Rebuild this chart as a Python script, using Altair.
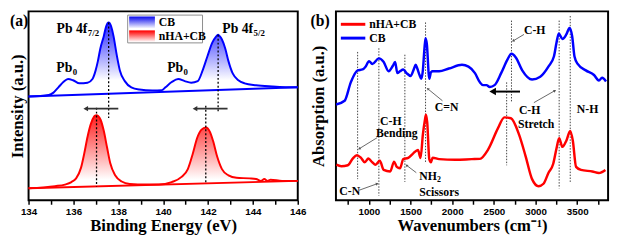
import math
import altair as alt
import pandas as pd

# ---------------- Panel (a): XPS Pb 4f ----------------
cb_e = [134.0, 134.9, 135.11, 135.33, 135.55, 135.76, 135.98, 136.27, 136.63, 136.85, 136.99,
        137.09, 137.2, 137.35, 137.46, 137.57, 137.68, 137.79, 137.93, 138.07, 138.29, 138.58,
        138.94, 139.52, 139.95, 140.1, 140.38, 140.67, 140.96, 141.25, 141.54, 141.76, 141.97,
        142.19, 142.35, 142.45, 142.53, 142.62, 142.77, 142.91, 143.1, 143.35, 143.63, 144.14,
        144.86, 145.87, 146.0]
cb_i = [112, 113.7, 116.3, 122, 127.7, 131, 129.7, 126.3, 127, 131, 140.3,
        150.3, 164, 177, 188, 192, 188, 177, 157, 140.3, 128.7, 122,
        119.7, 118.7, 119, 122, 127.7, 131, 128.7, 127, 128.7, 140.3, 155.3,
        170.3, 176.5, 178.7, 177, 173.7, 163.7, 150.3, 137, 129.7, 126.3, 124.3,
        123, 122, 122]
nha_e = [134.0, 135.18, 135.62, 135.91, 136.12, 136.34, 136.48, 136.63, 136.77, 136.92, 136.97,
         137.03, 137.1, 137.21, 137.35, 137.5, 137.64, 137.86, 138.15, 138.51, 139.23, 139.81,
         140.38, 140.82, 141.1, 141.32, 141.51, 141.71, 141.9, 142.09, 142.23, 142.41, 142.62,
         142.91, 143.27, 143.85, 144.14, 144.36, 144.51, 144.65, 144.79, 145.3, 146.0]
nha_i = [13, 15.3, 17, 19.7, 23.7, 35.3, 50.3, 68.7, 82, 90.3, 91.5,
         92, 91, 87, 75.3, 57, 40.3, 27, 20.3, 17.7, 17, 17,
         19.7, 25.3, 33.7, 50.3, 67, 76.3, 78.7, 73.7, 63.7, 47, 33.7,
         27, 24.3, 23.7, 23, 21, 23, 21, 22.3, 21, 21]
base_e = [134.0, 146.0]
base_cb_i = [112, 122]
base_nha_i = [13, 21]

guide_a_e = [137.57, 142.45, 137.03, 141.9]
guide_a_top = [192, 178.7, 100, 102]
guide_a_bot = [89, 95, 15, 19]

arrow_a_tail = [138.0, 142.87]
arrow_a_head = [136.55, 141.42]
arrow_a_i = [99, 99]

lab_a_text = ["Pb 4f", "Pb 4f", "Pb", "Pb"]
lab_a_e = [136.62, 144.01, 135.95, 140.89]
lab_a_i = [185, 185, 143, 143]
sub_a_text = ["7/2", "5/2", "0", "0"]
sub_a_e = [136.64, 144.03, 135.97, 140.91]
sub_a_i = [180.5, 180.5, 138.5, 138.5]

# ---------------- Panel (b): IR ----------------
cb_w = [607, 709, 783, 865, 924, 960, 1002, 1041, 1120, 1178, 1237, 1288, 1315, 1342, 1373,
        1413, 1452, 1503, 1538, 1561, 1581, 1608, 1628, 1648, 1667, 1680, 1695, 1725, 1745,
        1765, 1843, 1960, 2117, 2195, 2273, 2332, 2371, 2411, 2450, 2508, 2587, 2664, 2711,
        2763, 2840, 2958, 3056, 3154, 3220, 3251, 3279, 3322, 3369, 3408, 3439, 3467, 3505,
        3603, 3701, 3760, 3798, 3845]
cb_a = [104, 108, 128, 141, 142, 145, 151, 148, 154, 150, 140, 146, 150, 138, 140,
        142, 138, 135, 142, 147, 143, 136, 132, 141, 165, 176, 170, 132, 139,
        140, 140, 143, 147, 145, 138, 128, 125, 125, 123, 125, 138, 153, 159,
        155, 141, 131, 134, 145, 156, 171, 181, 175, 180, 187, 178, 156, 148,
        141, 136, 130, 133, 129]
nha_w = [610, 669, 748, 806, 857, 904, 951, 994, 1041, 1080, 1131, 1178, 1256, 1303, 1335,
         1373, 1413, 1472, 1530, 1589, 1620, 1648, 1671, 1685, 1700, 1725, 1745, 1765, 1843,
         2038, 2234, 2332, 2430, 2548, 2626, 2704, 2802, 2880, 2958, 3036, 3095, 3154, 3212,
         3251, 3283, 3322, 3369, 3416, 3447, 3486, 3545, 3681, 3760, 3838]
nha_a = [38.7, 37, 38, 45.3, 49, 46.3, 41.3, 45.3, 41.3, 38.7, 43, 33, 31.3, 42, 36.3,
         34.7, 44.7, 46, 50.7, 54.7, 46, 71.3, 86.3, 93, 84.7, 44.7, 41.3, 46.3, 44.7,
         44, 44.7, 45, 55, 78, 90, 89, 71.3, 48, 23, 15.3, 18, 29.7, 39.7,
         56.3, 67.3, 58, 64.7, 75.3, 64.7, 36.3, 33, 31.3, 29.7, 33]

guide_b_w = [865, 1120, 1432, 1680, 2711, 2653, 3283, 3416]
guide_b_top = [161, 165, 158, 193, 195, 128, 195, 200]
guide_b_bot = [23, 5, 20, 41, 106, 38, 13, 20]

ann_b_text = ["C-H", "C=N", "C-H", "Stretch", "N-H", "C-H", "Bending", "C-N", "NH", "Scissors"]
ann_b_w = [2989, 1933, 2800, 2790, 3623, 1264, 1335, 771, 1604, 1604]
ann_b_a = [185, 101, 98, 83, 99, 86, 73, 10, 26, 9]
ann_b_align = ["center", "center", "left", "left", "center", "center", "center", "center", "left", "left"]
sub_b_text = ["2"]
sub_b_w = [1816]
sub_b_a = [22]

ptr_tail_w = [2861, 1883, 2980, 1100, 885, 1569]
ptr_tail_a = [180, 108, 106, 68, 11, 30]
ptr_head_w = [2731, 1707, 3232, 885, 1100, 1452]
ptr_head_a = [173, 121, 119, 56, 18, 38]

big_tail_w = [2813]
big_head_w = [2485]
big_a = [118]

# ---------------- layout ----------------
W_A, W_B, H = 275, 278, 193
E_DOM = [134, 146]
IA_DOM = [0, 204]
WN_DOM = [605, 3870]
IB_DOM = [0, 205]
SERIF = "Liberation Serif"
SANS = "Liberation Sans"
BLUE = "#0000ff"
RED = "#ff0000"


def rxa(px):
    return (px - 26) * W_A / 277


def rya(py):
    return (py - 3) * H / 204


def rxb(px):
    return (px - 338) * W_B / 278


def ryb(py):
    return (py - 3) * H / 205


def grad(c, start=0.0):
    return alt.Gradient(gradient="linear",
                        stops=[alt.GradientStop(color="white", offset=0),
                               alt.GradientStop(color="white", offset=start),
                               alt.GradientStop(color=c, offset=0.97)],
                        x1=0, x2=0, y1=1, y2=0)


one = pd.DataFrame({"k": [0]})

xa = alt.X("e:Q", scale=alt.Scale(domain=E_DOM, nice=False, zero=False),
           axis=alt.Axis(title="Binding Energy (eV)", values=list(range(134, 147)),
                         labelExpr="datum.value % 2 == 0 ? datum.label : ''"))
ya = alt.Y("i:Q", scale=alt.Scale(domain=IA_DOM, nice=False),
           axis=alt.Axis(title="Intensity (a.u.)", labels=False, ticks=False, titlePadding=2))

df_cb = pd.DataFrame({"e": cb_e, "i": cb_i})
df_nha = pd.DataFrame({"e": nha_e, "i": nha_i})


def base_expr(bi):
    return f"{bi[0]} + (datum.e - {base_e[0]}) * ({bi[1] - bi[0]}) / ({base_e[1] - base_e[0]})"


area_cb = alt.Chart(df_cb).transform_calculate(i2=base_expr(base_cb_i)).mark_area(
    fill=grad("#2a2aff", 0.22), interpolate="monotone").encode(x=xa, y=ya, y2="i2:Q")
area_nha = alt.Chart(df_nha).transform_calculate(i2=base_expr(base_nha_i)).mark_area(
    fill=grad("#ff2424", 0.12), interpolate="monotone").encode(x=xa, y=ya, y2="i2:Q")
line_cb = alt.Chart(df_cb).mark_line(color=BLUE, strokeWidth=2, interpolate="monotone").encode(x=xa, y=ya)
line_nha = alt.Chart(df_nha).mark_line(color=RED, strokeWidth=2, interpolate="monotone").encode(x=xa, y=ya)
bl_cb = alt.Chart(pd.DataFrame({"e": base_e, "i": base_cb_i})).mark_line(color=BLUE, strokeWidth=2).encode(x=xa, y=ya)
bl_nha = alt.Chart(pd.DataFrame({"e": base_e, "i": base_nha_i})).mark_line(color=RED, strokeWidth=2).encode(x=xa, y=ya)

guides_a = alt.Chart(pd.DataFrame({"e": guide_a_e, "i": guide_a_top, "i2": guide_a_bot})).mark_rule(
    color="black", strokeWidth=1.3, strokeDash=[2, 2]).encode(x=xa, y=ya, y2="i2:Q")
arr_a = alt.Chart(pd.DataFrame({"e": arrow_a_tail, "e2": arrow_a_head, "i": arrow_a_i})).mark_rule(
    color="#333333", strokeWidth=1.8).encode(x=xa, x2="e2:Q", y=ya)
arr_a_head = alt.Chart(pd.DataFrame({"e": arrow_a_head, "i": arrow_a_i})).mark_point(
    shape="triangle-left", filled=True, color="#333333", size=30, opacity=1).encode(x=xa, y=ya)

txt_a = alt.Chart(pd.DataFrame({"e": lab_a_e, "i": lab_a_i, "t": lab_a_text})).mark_text(
    font=SERIF, fontWeight="bold", fontSize=14, align="right", baseline="middle", color="black").encode(
    x=xa, y=ya, text="t:N")
sub_a = alt.Chart(pd.DataFrame({"e": sub_a_e, "i": sub_a_i, "t": sub_a_text})).mark_text(
    font=SERIF, fontWeight="bold", fontSize=9, align="left", baseline="middle", color="black").encode(
    x=xa, y=ya, text="t:N")

leg_box = alt.Chart(one).mark_rect(fill="white", stroke="#8c8c8c", strokeWidth=1).encode(
    x=alt.value(rxa(128)), x2=alt.value(rxa(205)), y=alt.value(rya(7)), y2=alt.value(rya(37)))
leg_sw_cb = alt.Chart(one).mark_rect(fill=grad("#1010ee")).encode(
    x=alt.value(rxa(129.5)), x2=alt.value(rxa(156)), y=alt.value(rya(8.5)), y2=alt.value(rya(21.5)))
leg_sw_nha = alt.Chart(one).mark_rect(fill=grad("#ff0000")).encode(
    x=alt.value(rxa(129.5)), x2=alt.value(rxa(156)), y=alt.value(rya(23.5)), y2=alt.value(rya(36)))
leg_t_cb = alt.Chart(one).mark_text(text="CB", font=SERIF, fontWeight="bold", fontSize=12,
                                    align="left", baseline="middle").encode(
    x=alt.value(rxa(160)), y=alt.value(rya(15)))
leg_t_nha = alt.Chart(one).mark_text(text="nHA+CB", font=SERIF, fontWeight="bold", fontSize=12,
                                     align="left", baseline="middle").encode(
    x=alt.value(rxa(160)), y=alt.value(rya(30)))
tag_a = alt.Chart(one).mark_text(text="(a)", font=SERIF, fontWeight="bold", fontSize=16,
                                 align="left", baseline="middle").encode(
    x=alt.value(-19), y=alt.value(rya(13)))

panel_a = alt.layer(area_cb, area_nha, line_cb, line_nha, bl_cb, bl_nha, guides_a, arr_a, arr_a_head,
                    txt_a, sub_a, leg_box, leg_sw_cb, leg_sw_nha, leg_t_cb, leg_t_nha, tag_a
                    ).properties(width=W_A, height=H)

# ---------------- panel (b) ----------------
xb = alt.X("w:Q", scale=alt.Scale(domain=WN_DOM, nice=False, zero=False),
           axis=alt.Axis(title="Wavenumbers (cm⁻¹)", values=list(range(750, 3751, 250)),
                         labelExpr="datum.value % 500 == 0 ? datum.label : ''", format="d"))
yb = alt.Y("a:Q", scale=alt.Scale(domain=IB_DOM, nice=False),
           axis=alt.Axis(title="Absorption (a.u.)", labels=False, ticks=False, titlePadding=9))

SXB = W_B / (WN_DOM[1] - WN_DOM[0])
SYB = H / (IB_DOM[1] - IB_DOM[0])


def head_angle(x0, y0, x1, y1):
    dx = (x1 - x0) * SXB
    dy = -(y1 - y0) * SYB
    return math.degrees(math.atan2(dx, -dy)) % 360


ptr_ang = [head_angle(a, b, c, d) for a, b, c, d in zip(ptr_tail_w, ptr_tail_a, ptr_head_w, ptr_head_a)]

guides_b = alt.Chart(pd.DataFrame({"w": guide_b_w, "a": guide_b_top, "a2": guide_b_bot})).mark_rule(
    color="#444444", strokeWidth=1, strokeDash=[1.5, 1.5]).encode(x=xb, y=yb, y2="a2:Q")
line_b_cb = alt.Chart(pd.DataFrame({"w": cb_w, "a": cb_a})).mark_line(
    color=BLUE, strokeWidth=2.5, interpolate="monotone").encode(x=xb, y=yb)
line_b_nha = alt.Chart(pd.DataFrame({"w": nha_w, "a": nha_a})).mark_line(
    color=RED, strokeWidth=2.5, interpolate="monotone").encode(x=xb, y=yb)
ptr = alt.Chart(pd.DataFrame({"w": ptr_tail_w, "a": ptr_tail_a, "w2": ptr_head_w, "a2": ptr_head_a})).mark_rule(
    color="#555555", strokeWidth=0.9).encode(x=xb, y=yb, x2="w2:Q", y2="a2:Q")
ptr_h = alt.Chart(pd.DataFrame({"w": ptr_head_w, "a": ptr_head_a, "ang": ptr_ang})).mark_point(
    shape="triangle-up", filled=True, color="#555555", size=10, opacity=1).encode(
    x=xb, y=yb, angle=alt.Angle("ang:Q", scale=None))
big = alt.Chart(pd.DataFrame({"w": big_tail_w, "w2": big_head_w, "a": big_a})).mark_rule(
    color="black", strokeWidth=2).encode(x=xb, x2="w2:Q", y=yb)
big_h = alt.Chart(pd.DataFrame({"w": big_head_w, "a": big_a})).mark_point(
    shape="triangle-left", filled=True, color="black", size=60, opacity=1).encode(x=xb, y=yb)

df_ann = pd.DataFrame({"w": ann_b_w, "a": ann_b_a, "t": ann_b_text, "al": ann_b_align})
ann_c = alt.Chart(df_ann[df_ann["al"] == "center"]).mark_text(
    font=SERIF, fontWeight="bold", fontSize=12, align="center", baseline="middle", color="black").encode(
    x=xb, y=yb, text="t:N")
ann_l = alt.Chart(df_ann[df_ann["al"] == "left"]).mark_text(
    font=SERIF, fontWeight="bold", fontSize=12, align="left", baseline="middle", color="black").encode(
    x=xb, y=yb, text="t:N")
ann_sub = alt.Chart(pd.DataFrame({"w": sub_b_w, "a": sub_b_a, "t": sub_b_text})).mark_text(
    font=SERIF, fontWeight="bold", fontSize=8, align="left", baseline="middle", color="black").encode(
    x=xb, y=yb, text="t:N")

lg_r = alt.Chart(one).mark_rule(color=RED, strokeWidth=3).encode(
    x=alt.value(rxb(343)), x2=alt.value(rxb(368)), y=alt.value(ryb(17)))
lg_b = alt.Chart(one).mark_rule(color=BLUE, strokeWidth=3).encode(
    x=alt.value(rxb(343)), x2=alt.value(rxb(368)), y=alt.value(ryb(32)))
lg_tr = alt.Chart(one).mark_text(text="nHA+CB", font=SERIF, fontWeight="bold", fontSize=12,
                                 align="left", baseline="middle").encode(
    x=alt.value(rxb(372)), y=alt.value(ryb(17)))
lg_tb = alt.Chart(one).mark_text(text="CB", font=SERIF, fontWeight="bold", fontSize=12,
                                 align="left", baseline="middle").encode(
    x=alt.value(rxb(372)), y=alt.value(ryb(32)))
tag_b = alt.Chart(one).mark_text(text="(b)", font=SERIF, fontWeight="bold", fontSize=16,
                                 align="left", baseline="middle").encode(
    x=alt.value(-26), y=alt.value(ryb(13)))

panel_b = alt.layer(guides_b, line_b_cb, line_b_nha, ptr, ptr_h, big, big_h, ann_c, ann_l, ann_sub,
                    lg_r, lg_b, lg_tr, lg_tb, tag_b).properties(width=W_B, height=H)

chart = alt.hconcat(panel_a, panel_b, spacing=1).properties(padding=0).configure_view(
    stroke="black", strokeWidth=2).configure_axis(
    grid=False, domain=False, labelFont=SANS, labelFontWeight="bold", labelFontSize=10,
    labelColor="black", titleFont=SERIF, titleFontSize=17, titleFontWeight="bold",
    titleColor="black", tickColor="black", tickWidth=1.5, tickSize=4).configure_axisX(
    labelFlush=False, labelPadding=2, titlePadding=2, labelOverlap=False)

chart.save("out.html", embed_options={"renderer": "svg", "actions": False})
